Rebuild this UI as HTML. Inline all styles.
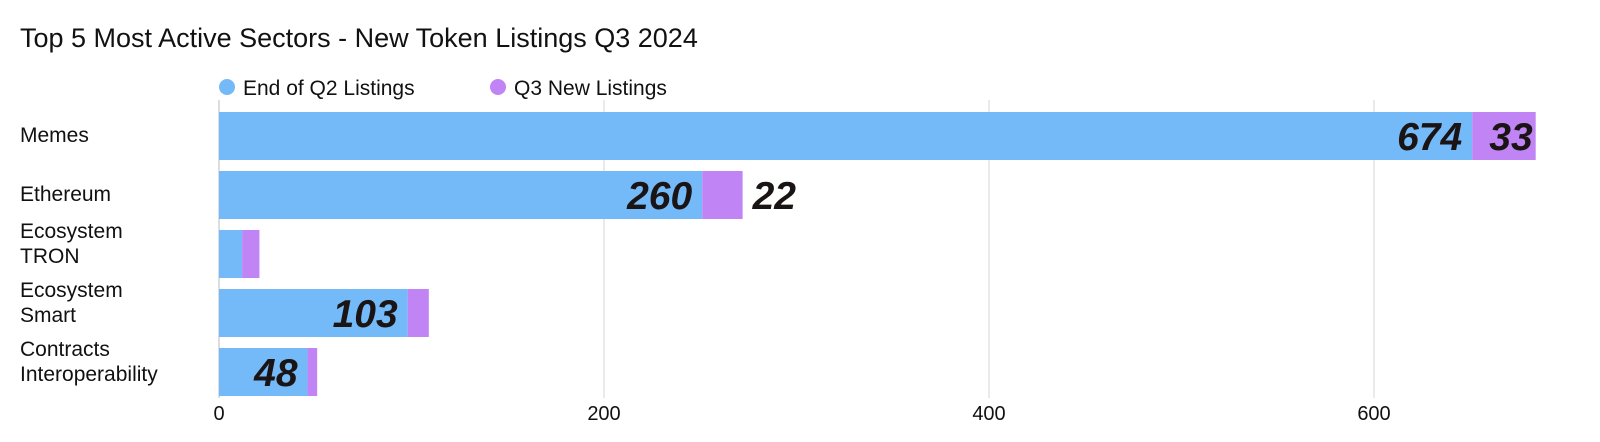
<!DOCTYPE html>
<html><head><meta charset="utf-8"><style>
body{margin:0;background:#fff;}
svg{display:block;font-family:"Liberation Sans",sans-serif;}
</style></head><body>
<svg id="chart" width="1600" height="442">
<text x="20" y="47" font-size="27" fill="#111">Top 5 Most Active Sectors - New Token Listings Q3 2024</text>
<g>
<circle cx="227" cy="87" r="8" fill="#74b9f8"/>
<text x="243" y="95" font-size="21" fill="#111">End of Q2 Listings</text>
<circle cx="498" cy="87" r="8" fill="#c084f5"/>
<text x="514" y="95" font-size="21" fill="#111">Q3 New Listings</text>
</g>
<g id="grid"></g><g id="bars"></g><g id="labels"></g>
</svg>
<script>
const categories=[["Memes"],["Ethereum"],["Ecosystem","TRON"],["Ecosystem","Smart"],["Contracts","Interoperability"]];
const q2Values=[651,251,12,98,46];
const q3Values=[33,21,9,11,5];
const q2Labels=["674","260","","103","48"];
const q3Labels=["33","22","","",""];
const ticks=[0,200,400,600];
const NS="http://www.w3.org/2000/svg";
const x0=219,pxPer=(1374-219)/600;
const xs=v=>x0+v*pxPer;
const bandTop=107,band=59,barH=48;
const yb=i=>bandTop+i*band+5;
function mk(tag,attrs,parent){const e=document.createElementNS(NS,tag);for(const k in attrs)e.setAttribute(k,attrs[k]);parent.appendChild(e);return e;}
const grid=document.getElementById('grid'),bars=document.getElementById('bars'),labels=document.getElementById('labels');
ticks.forEach(t=>{
 const l=mk('line',{x1:xs(t),x2:xs(t),y1:100,y2:398,stroke:t===0?'#bbb':'#d6d6d6','stroke-width':1},grid);
 
 
 const tx=mk('text',{x:xs(t),y:420,'font-size':20,'text-anchor':'middle',fill:'#111'},grid);
 tx.textContent=t;
 
 
});
categories.forEach((c,i)=>{
 const y=yb(i);
 const a=q2Values[i],b=q3Values[i];
 const r1=mk('rect',{x:xs(0),y:y,width:xs(a)-xs(0),height:barH,fill:'#74b9f8'},bars);
 
 
 const r2=mk('rect',{x:xs(a),y:y,width:xs(a+b)-xs(a),height:barH,fill:'#c084f5'},bars);
 
 
 const ct=mk('text',{x:20,'font-size':21,fill:'#111'},labels);
 
 
 const startY=c.length===1?y+30:y+8;
 c.forEach((line,j)=>{const ts=mk('tspan',{x:20,y:startY+j*25},ct);ts.textContent=line;});
 if(q2Labels[i]){
  const t=mk('text',{x:xs(a)-10,y:y+38,'font-size':39,'font-weight':'bold','font-style':'italic','text-anchor':'end',fill:'#1a1414'},labels);
  t.textContent=q2Labels[i];
  
  
 }
 if(q3Labels[i]){
  const inside=(xs(a+b)-xs(a))>50;
  const t=mk('text',{x:inside?xs(a+b)-3:xs(a+b)+10,y:y+38,'font-size':39,'font-weight':'bold','font-style':'italic','text-anchor':inside?'end':'start',fill:'#1a1414'},labels);
  t.textContent=q3Labels[i];
  
  
 }
});
</script>
</body></html>
